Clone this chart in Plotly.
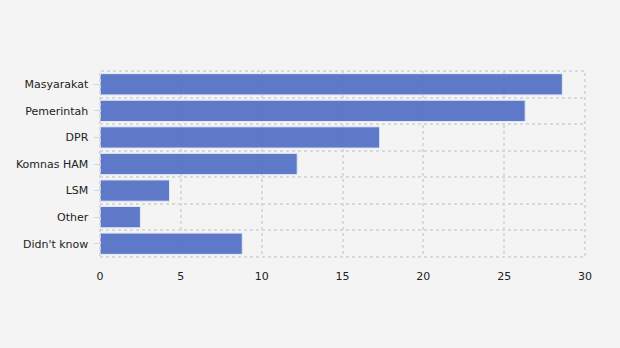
import plotly.graph_objects as go

categories = ["Masyarakat", "Pemerintah", "DPR", "Komnas HAM", "LSM", "Other", "Didn't know"]
values = [28.6, 26.3, 17.3, 12.2, 4.3, 2.5, 8.8]
x_ticks = [0, 5, 10, 15, 20, 25, 30]

BAR_COLOR = "#5470c6"
GRID_COLOR = "#d9d9d9"
BG = "#f4f4f4"

fig = go.Figure()
fig.add_trace(go.Bar(
    x=values,
    y=categories,
    orientation="h",
    marker=dict(color=BAR_COLOR, line=dict(color="#e3e8f6", width=1)),
    opacity=0.93,
    hoverinfo="x+y",
))

# helper axis that carries the dotted gridlines between categories
boundaries = [i - 0.5 for i in range(len(categories) + 1)]
fig.add_trace(go.Scatter(x=[0], y=[0], yaxis="y2", mode="markers",
                         marker=dict(opacity=0), hoverinfo="skip", showlegend=False))

# dotted frame around the plotting area
fig.add_shape(type="rect", xref="paper", yref="paper", x0=0, x1=1, y0=0, y1=1,
              line=dict(color=GRID_COLOR, width=2, dash="dot"), layer="above")

fig.update_layout(
    width=620, height=348,
    margin=dict(l=100, r=35, t=71, b=91),
    paper_bgcolor=BG, plot_bgcolor=BG,
    font=dict(family="DejaVu Sans, Verdana, sans-serif", size=11, color="#222"),
    bargap=0.2,
    showlegend=False,
    xaxis=dict(
        range=[0, 30], tickvals=x_ticks, showgrid=True,
        gridcolor=GRID_COLOR, griddash="dot", gridwidth=2,
        zeroline=False, showline=False, ticks="outside", ticklen=9,
        tickcolor=BG, tickfont=dict(size=11),
    ),
    yaxis=dict(
        categoryorder="array", categoryarray=categories,
        autorange="reversed", showgrid=False, zeroline=False,
        ticks="outside", ticklen=5, tickcolor="#d6d6d6", tickwidth=1,
        ticksuffix=" ",
    ),
    yaxis2=dict(
        overlaying="y", range=[len(categories) - 0.5, -0.5],
        tickvals=boundaries, showticklabels=False, ticks="",
        showgrid=True, gridcolor=GRID_COLOR, griddash="dot", gridwidth=2,
        zeroline=False, showline=False,
    ),
)

fig.write_html("out.html")
